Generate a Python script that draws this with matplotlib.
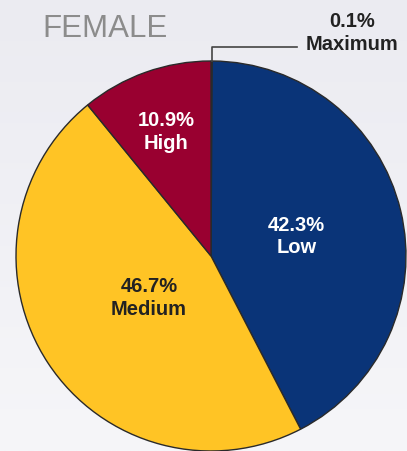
import matplotlib.pyplot as plt
import numpy as np
from matplotlib.colors import LinearSegmentedColormap

plt.rcParams['font.family'] = ['Liberation Sans', 'DejaVu Sans']

# Risk level shares, female
labels = ["Maximum", "Low", "Medium", "High"]
shares = [0.1, 42.3, 46.7, 10.9]
colors = ["#9a9a9a", "#0a3478", "#ffc425", "#990030"]
title = "FEMALE"

W, H = 407, 452
fig = plt.figure(figsize=(W / 100, H / 100), dpi=100)

# background gradient
bg = fig.add_axes([0, 0, 1, 1])
grad = np.linspace(0, 1, 256).reshape(-1, 1)
cmap = LinearSegmentedColormap.from_list("bg", ["#ebebf1", "#f6f6f9"])
bg.imshow(grad, aspect="auto", cmap=cmap, extent=[0, 1, 0, 1], origin="upper")
bg.axis("off")

ax = fig.add_axes([0, 0, 1, 1])
ax.patch.set_alpha(0)

cx, cy, r = 211, H - 257, 195
wedges, _ = ax.pie(shares, colors=colors, startangle=90, counterclock=False,
                   center=(cx, cy), radius=r, frame=True,
                   wedgeprops=dict(edgecolor="#2a2a2a", linewidth=1.0))
ax.set_xlim(0, W)
ax.set_ylim(0, H)
ax.axis("off")

# labels inside slices
dist = [None, 0.45, 0.38, 0.68]
for w, lab, val, d in zip(wedges, labels, shares, dist):
    if d is None:
        continue
    ang = np.deg2rad((w.theta1 + w.theta2) / 2)
    tx = cx + r * d * np.cos(ang)
    ty = cy + r * d * np.sin(ang)
    tc = "#222222" if lab == "Medium" else "white"
    ax.text(tx, ty, f"{val}%\n{lab}", ha="center", va="center", color=tc,
            fontsize=14.5, fontweight="bold", linespacing=1.25)

# leader line for the thin Maximum slice
w0 = wedges[0]
ang0 = np.deg2rad((w0.theta1 + w0.theta2) / 2)
x0 = cx + r * np.cos(ang0)
y0 = cy + r * np.sin(ang0)
ax.plot([x0, x0, 297], [y0, H - 48, H - 48], color="#444444", lw=1.2)
ax.text(352, H - 33, f"{shares[0]}%\n{labels[0]}", ha="center", va="center",
        color="#222222", fontsize=14.5, fontweight="bold", linespacing=1.25)

ax.text(42, H - 29, title, ha="left", va="center", color="#8c8c8c", fontsize=22.5)

fig.savefig("out.png", dpi=100)
